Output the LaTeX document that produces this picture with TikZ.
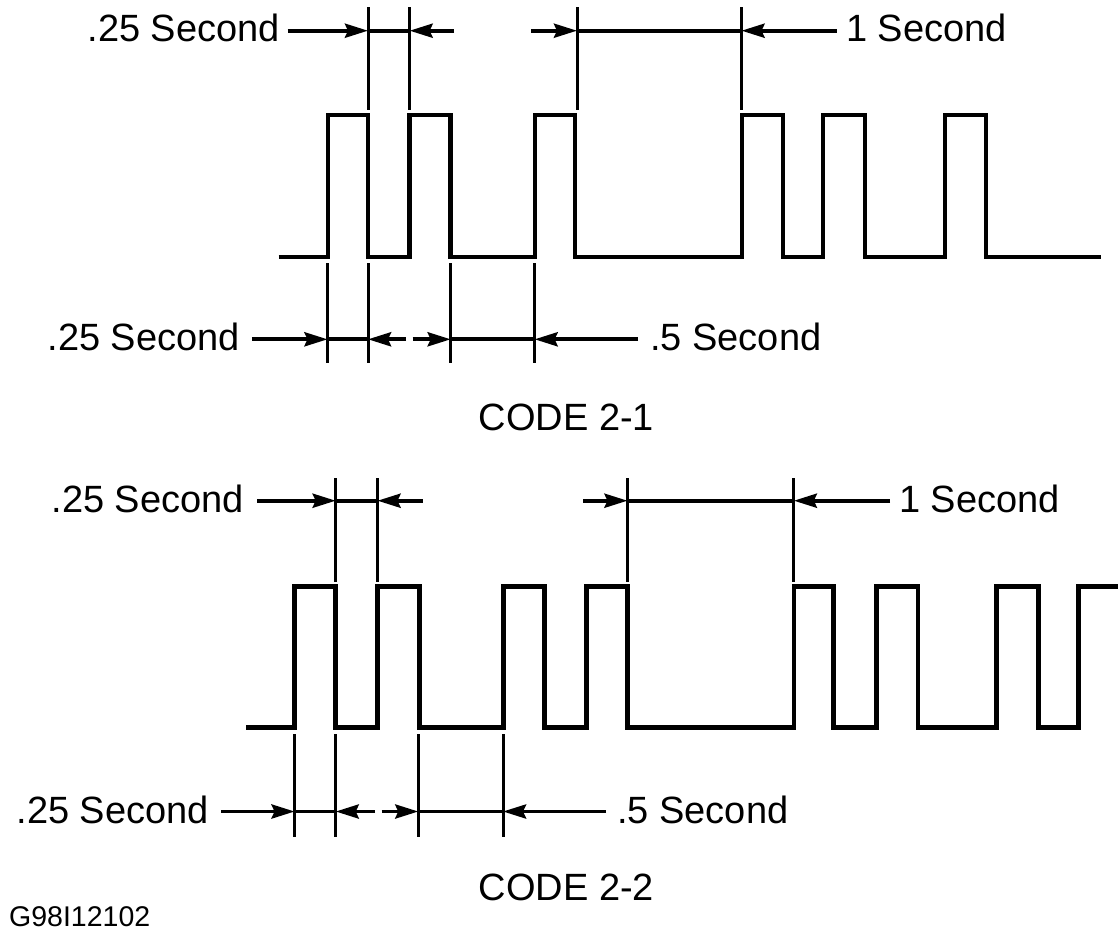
\documentclass[tikz,border=0pt]{standalone}
\usepackage{fontspec}
\setmainfont{Liberation Sans}
\usetikzlibrary{arrows.meta}
\begin{document}
\begin{tikzpicture}[x=1pt,y=-1pt,
  wave/.style={line width=4.6pt, line join=miter, line cap=butt},
  tick/.style={line width=3pt},
  dim/.style={line width=3.8pt},
  dimarrow/.style={line width=3.8pt, -{Stealth[length=23pt,width=14pt,inset=3pt]}},
  lbl/.style={inner sep=0pt, font=\fontsize{38}{40}\selectfont},
  small/.style={inner sep=0pt, text depth=0pt, font=\fontsize{28.5}{30}\selectfont}]
\fill[white] (0,0) rectangle (1118,930);
\useasboundingbox (0,0) rectangle (1118,930);

% ---------- CODE 2-1 waveform ----------
\draw[wave] (278.6,257) -| (328,115) -| (368,257) -| (409.6,115) -| (450.7,257)
  -| (535,115) -| (575,257) -| (742,115) -| (783,257) -| (823,115) -| (865,257)
  -| (945,115) -| (986,257) -- (1101,257);

% upper dimensions
\foreach \x in {368,409.6,577,741.5} \draw[tick] (\x,7) -- (\x,110);
\coordinate (ua1) at (287.5,30.7); \coordinate (ut1) at (368,30.7);
\coordinate (ut2) at (409.6,30.7); \coordinate (ua2) at (454,30.7);
\coordinate (ua3) at (531.4,30.7); \coordinate (ut3) at (577,30.7);
\coordinate (ut4) at (741.5,30.7); \coordinate (ua4) at (836.5,30.7);
\draw[dimarrow] (ua1) -- (ut1);
\draw[dim] (ut1) -- (ut2);
\draw[dimarrow] (ua2) -- (ut2);
\draw[dimarrow] (ua3) -- (ut3);
\draw[dim] (ut3) -- (ut4);
\draw[dimarrow] (ua4) -- (ut4);
\node[lbl, anchor=base east] (uq1) at (280,41.7) {.25 Second};
\node[lbl, anchor=base west] (us1) at (846,41.7) {1 Second};

% lower dimensions
\foreach \x in {327.5,368,450.7,534.6} \draw[tick] (\x,263) -- (\x,362.7);
\coordinate (la1) at (251.8,339.3); \coordinate (lt1) at (327.5,339.3);
\coordinate (lt2) at (368,339.3);   \coordinate (la2) at (406,339.3);
\coordinate (la3) at (412.5,339.3); \coordinate (lt3) at (450.7,339.3);
\coordinate (lt4) at (534.6,339.3); \coordinate (la4) at (638,339.3);
\draw[dimarrow] (la1) -- (lt1);
\draw[dim] (lt1) -- (lt2);
\draw[dimarrow] (la2) -- (lt2);
\draw[dimarrow] (la3) -- (lt3);
\draw[dim] (lt3) -- (lt4);
\draw[dimarrow] (la4) -- (lt4);
\node[lbl, anchor=base east] (lq1) at (240,350) {.25 Second};
\node[lbl, anchor=base west] (lh1) at (650,350) {.5 Second};

\node[lbl, anchor=base] (code1) at (566.5,430) {CODE 2-1};

% ---------- CODE 2-2 waveform ----------
\draw[wave] (246.4,727.3) -| (294.6,586.7) -| (335.7,727.3) -| (377.5,586.7)
  -| (419.6,727.3) -| (503.6,586.7) -| (544.7,727.3) -| (586.7,586.7)
  -| (627.5,727.3) -| (793.8,586.7) -| (833.5,727.3) -| (876.6,586.7)
  -| (918,727.3) -| (996.7,586.7) -| (1038.5,727.3) -| (1078.7,586.7) -- (1118,586.7);

% upper dimensions
\foreach \x in {335.7,377.5,627.5,793.8} \draw[tick] (\x,478) -- (\x,581.7);
\coordinate (ub1) at (257,500.7);   \coordinate (uv1) at (335.7,500.7);
\coordinate (uv2) at (377.5,500.7); \coordinate (ub2) at (422.5,500.7);
\coordinate (ub3) at (583,500.7);   \coordinate (uv3) at (627.5,500.7);
\coordinate (uv4) at (793.8,500.7); \coordinate (ub4) at (890,500.7);
\draw[dimarrow] (ub1) -- (uv1);
\draw[dim] (uv1) -- (uv2);
\draw[dimarrow] (ub2) -- (uv2);
\draw[dimarrow] (ub3) -- (uv3);
\draw[dim] (uv3) -- (uv4);
\draw[dimarrow] (ub4) -- (uv4);
\node[lbl, anchor=base east] (uq2) at (244,512) {.25 Second};
\node[lbl, anchor=base west] (us2) at (899,512) {1 Second};

% lower dimensions
\foreach \x in {294.6,335.7,418.3,503} \draw[tick] (\x,734) -- (\x,836.7);
\coordinate (lb1) at (221,811.5);   \coordinate (lv1) at (294.6,811.5);
\coordinate (lv2) at (335.7,811.5); \coordinate (lb2) at (375,811.5);
\coordinate (lb3) at (381.7,811.5); \coordinate (lv3) at (418.3,811.5);
\coordinate (lv4) at (503,811.5);   \coordinate (lb4) at (606,811.5);
\draw[dimarrow] (lb1) -- (lv1);
\draw[dim] (lv1) -- (lv2);
\draw[dimarrow] (lb2) -- (lv2);
\draw[dimarrow] (lb3) -- (lv3);
\draw[dim] (lv3) -- (lv4);
\draw[dimarrow] (lb4) -- (lv4);
\node[lbl, anchor=base east] (lq2) at (209,823) {.25 Second};
\node[lbl, anchor=base west] (lh2) at (617,823) {.5 Second};

\node[lbl, anchor=base] (code2) at (566.5,900) {CODE 2-2};
\node[small, anchor=base west] (fig) at (9,926) {G98I12102};
\end{tikzpicture}
\end{document}
